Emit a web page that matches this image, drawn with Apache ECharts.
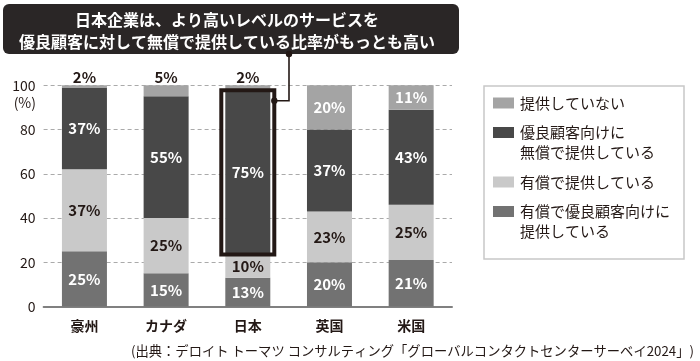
<!DOCTYPE html>
<html><head><meta charset="utf-8">
<script src="https://cdn.jsdelivr.net/npm/echarts@6/dist/echarts.min.js"></script>
<style>html,body{margin:0;padding:0;background:#fff}#c{width:700px;height:361px}</style>
</head><body><div id="c"></div>
<script>
const categories = ['豪州', 'カナダ', '日本', '英国', '米国'];
const seriesNames = ['有償で優良顧客向けに\n提供している', '有償で提供している', '優良顧客向けに\n無償で提供している', '提供していない'];
const paidPremium = [25, 15, 13, 20, 21];
const paidAll = [37, 25, 10, 23, 25];
const freePremium = [37, 55, 75, 37, 43];
const notProvided = [2, 5, 2, 20, 11];
const yTicks = [0, 20, 40, 60, 80, 100];
const yUnit = '(%)';
const titleLines = ['日本企業は、より高いレベルのサービスを', '優良顧客に対して無償で提供している比率がもっとも高い'];
const sourceText = '(出典：デロイト トーマツ コンサルティング「グローバルコンタクトセンターサーベイ2024」)';
const colors = ['#727272', '#c9c9c9', '#484848', '#a4a4a4'];
const labelColors = ['#ffffff', '#231815', '#ffffff', '#ffffff'];
const highlightIndex = 2;

const FONT = '"Noto Sans CJK JP", "Noto Sans", sans-serif';
const INK = '#231815';
const BAR_W = 45;

const chart = echarts.init(document.getElementById('c'), null, {renderer: 'canvas'});
const values = [paidPremium, paidAll, freePremium, notProvided];

const series = values.map((arr, si) => ({
  type: 'bar',
  name: seriesNames[si],
  stack: 'total',
  barWidth: BAR_W,
  itemStyle: {color: colors[si]},
  label: {
    show: true, position: 'inside', formatter: '{c}%',
    color: labelColors[si], fontFamily: FONT, fontWeight: 'bold', fontSize: 15
  },
  data: si === 3 ? arr.map(v => v < 10 ? {value: v, label: {position: 'top', distance: 1, color: INK}} : v) : arr
}));

const option = {
  animation: false,
  backgroundColor: '#fff',
  grid: {left: 43.6, right: 248, top: 85.3, bottom: 54.5},
  xAxis: {
    type: 'category', data: categories,
    axisLine: {lineStyle: {color: '#808080', width: 2}},
    axisTick: {show: false},
    axisLabel: {color: INK, fontFamily: FONT, fontWeight: 'bold', fontSize: 14, margin: 12}
  },
  yAxis: {
    type: 'value', min: yTicks[0], max: yTicks[yTicks.length - 1], interval: yTicks[1] - yTicks[0],
    axisLine: {show: false}, axisTick: {show: false},
    axisLabel: {color: INK, fontFamily: FONT, fontSize: 14, margin: 8},
    splitLine: {lineStyle: {color: '#aaaaaa', width: 1, type: [4, 3]}}
  },
  series: series
};
chart.setOption(option);

// annotation + legend graphics
const g = [];
// title box
g.push({type: 'rect', shape: {x: 3, y: 4, width: 456, height: 50, r: 6}, style: {fill: '#2a2626'}, z: 10});
titleLines.forEach((t, i) => g.push({
  type: 'text', x: 227, y: 20 + i * 22, z: 11,
  style: {text: t, fill: '#fff', font: 'bold 16px ' + FONT, align: 'center', verticalAlign: 'middle'}
}));
// y unit
g.push({type: 'text', x: 36, y: 103, style: {text: yUnit, fill: INK, font: '14px ' + FONT, align: 'right', verticalAlign: 'middle'}});
// source
g.push({type: 'text', x: 694, y: 351, style: {text: sourceText, fill: INK, font: '13.3px ' + FONT, align: 'right', verticalAlign: 'middle'}});

// highlight box around Japan free premium segment
const hb = paidPremium[highlightIndex] + paidAll[highlightIndex];
const ht = hb + freePremium[highlightIndex];
const pTop = chart.convertToPixel({xAxisIndex: 0, yAxisIndex: 0}, [categories[highlightIndex], ht]);
const pBot = chart.convertToPixel({xAxisIndex: 0, yAxisIndex: 0}, [categories[highlightIndex], hb]);
const bx0 = pTop[0] - BAR_W / 2 - 4, bx1 = pTop[0] + BAR_W / 2 + 4;
g.push({type: 'rect', z: 20, shape: {x: bx0, y: pTop[1] + 0.5, width: bx1 - bx0, height: pBot[1] - pTop[1] - 1.5},
  style: {fill: 'none', stroke: INK, lineWidth: 4}});
// connector
const cx = 289, cy0 = 54, cy1 = pTop[1] + 11;
g.push({type: 'polyline', z: 21, shape: {points: [[cx, cy0], [cx, cy1], [bx1, cy1]]}, style: {stroke: INK, lineWidth: 1.6, fill: 'none'}});
g.push({type: 'circle', z: 22, shape: {cx: cx, cy: cy0, r: 3.2}, style: {fill: INK}});
g.push({type: 'circle', z: 22, shape: {cx: bx1, cy: cy1, r: 3.2}, style: {fill: INK}});

// legend box
g.push({type: 'rect', shape: {x: 484, y: 86, width: 200, height: 173}, style: {fill: 'none', stroke: '#c8c8c8', lineWidth: 1.5}});
let ly = 103;
for (let si = seriesNames.length - 1; si >= 0; si--) {
  const lines = seriesNames[si].split('\n').length;
  g.push({type: 'rect', shape: {x: 493, y: ly - 5.5, width: 21, height: 11}, style: {fill: colors[si]}});
  g.push({type: 'text', x: 520, y: ly - 10, style: {text: seriesNames[si], fill: INK, font: '15px ' + FONT, lineHeight: 20, verticalAlign: 'top', align: 'left'}});
  ly += lines * 20 + 9.5;
}
chart.setOption({graphic: {elements: g}});
</script>
</body></html>
